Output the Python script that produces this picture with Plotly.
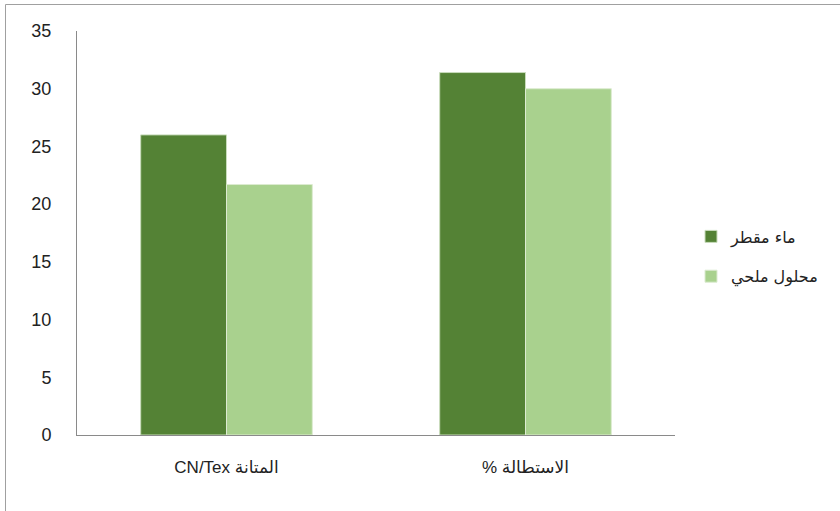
import plotly.graph_objects as go

categories = ["CN/Tex المتانة", "% الاستطالة"]
series_names = ["ماء مقطر", "محلول ملحي"]
distilled = [26.0, 31.4]
saline = [21.7, 30.0]
y_ticks = [0, 5, 10, 15, 20, 25, 30, 35]

W, H = 840, 511
L, R, T, B = 77, 165, 31, 76
pw = W - L - R
ph = H - T - B

fig = go.Figure()
fig.add_trace(go.Bar(x=categories, y=distilled, name=series_names[0],
                     marker=dict(color="#548235", line=dict(color="#c9dcbc", width=1)),
                     legendgroup="a"))
fig.add_trace(go.Bar(x=categories, y=saline, name=series_names[1],
                     marker=dict(color="#A9D18E", line=dict(color="#dcebd1", width=1)),
                     legendgroup="b"))

fig.update_layout(
    width=W, height=H,
    margin=dict(l=L, r=R, t=T, b=B, autoexpand=False),
    paper_bgcolor="white", plot_bgcolor="white",
    barmode="group", bargap=0.426, bargroupgap=0,
    font=dict(family="Liberation Sans, DejaVu Sans, sans-serif", size=16, color="#333333"),
    legend=dict(x=(691 - L) / pw, y=0.5 - 23.5 / ph, xanchor="left", yanchor="middle",
                traceorder="grouped", tracegroupgap=16,
                font=dict(size=16, family="DejaVu Sans, Liberation Sans", color="#222222"),
                bgcolor="rgba(0,0,0,0)"),
    xaxis=dict(showline=True, linecolor="#8a8a8a", linewidth=1, ticks="",
               showgrid=False, zeroline=False, ticklabelstandoff=17,
               tickfont=dict(family="Liberation Sans, DejaVu Sans", size=17, color="#222222")),
    yaxis=dict(range=[0, 35], tickvals=y_ticks, showline=True, linecolor="#8a8a8a",
               linewidth=1, showgrid=False, zeroline=False, ticks="",
               ticklabelstandoff=21,
               tickfont=dict(family="Liberation Sans, sans-serif", size=18, color="#222222")),
    shapes=[dict(type="rect", xref="paper", yref="paper",
                 x0=(5.5 - L) / pw, x1=(850 - L) / pw,
                 y0=(H - B - 520) / ph, y1=(H - B - 4.5) / ph,
                 line=dict(color="#a0a0a0", width=1), fillcolor="rgba(0,0,0,0)",
                 layer="below")],
)

fig.write_html("out.html", config={"displayModeBar": False},
               post_script="document.body.style.margin='0';")
